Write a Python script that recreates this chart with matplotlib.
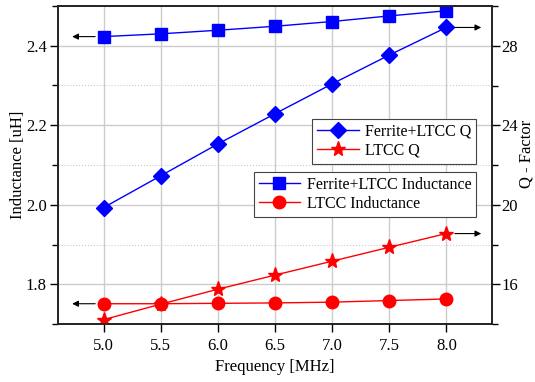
import numpy as np
import matplotlib
matplotlib.use("Agg")
import matplotlib.pyplot as plt
from matplotlib.ticker import MultipleLocator

plt.rcParams['font.family'] = ['Liberation Serif', 'DejaVu Serif']
plt.rcParams['mathtext.fontset'] = 'stix'

# data
freq = [5.0, 5.5, 6.0, 6.5, 7.0, 7.5, 8.0]
ind_ferrite = [2.423, 2.430, 2.439, 2.449, 2.461, 2.475, 2.488]
ind_ltcc = [1.751, 1.751, 1.752, 1.753, 1.755, 1.759, 1.763]
q_ferrite = [19.86, 21.46, 23.06, 24.58, 26.08, 27.53, 28.92]
q_ltcc = [14.22, 15.00, 15.75, 16.46, 17.16, 17.86, 18.55]

fig = plt.figure(figsize=(5.35, 3.82), dpi=100)
ax = fig.add_axes([58/535, 1 - 324/382, 434/535, 318/382])
ax2 = ax.twinx()

ax.set_xlim(4.6, 8.4)
ax.set_ylim(1.70, 2.50)
ax2.set_ylim(14, 30)

ax.xaxis.set_major_locator(MultipleLocator(0.5))
ax.yaxis.set_major_locator(MultipleLocator(0.2))
ax.yaxis.set_minor_locator(MultipleLocator(0.1))
ax2.yaxis.set_major_locator(MultipleLocator(4))
ax2.yaxis.set_minor_locator(MultipleLocator(2))

ax.grid(True, which='major', color='#cccccc', lw=1.0)
ax.grid(True, which='minor', axis='y', color='#cccccc', lw=0.8, ls=':')
ax.set_axisbelow(True)

l1, = ax.plot(freq, ind_ferrite, color='blue', lw=1, marker='s', ms=8,
              label='Ferrite+LTCC Inductance')
l2, = ax.plot(freq, ind_ltcc, color='red', lw=1, marker='o', ms=9,
              label='LTCC Inductance')
l3, = ax2.plot(freq, q_ferrite, color='blue', lw=1, marker='D', ms=8,
               label='Ferrite+LTCC Q')
l4, = ax2.plot(freq, q_ltcc, color='red', lw=1, marker='*', ms=11,
               label='LTCC Q')

# arrows pointing at the matching axis
arr = dict(arrowstyle='-|>', color='black', lw=0.8, mutation_scale=9)
ax.annotate('', xy=(4.70, ind_ferrite[0]), xytext=(4.95, ind_ferrite[0]), arrowprops=arr)
ax.annotate('', xy=(4.70, ind_ltcc[0]), xytext=(4.95, ind_ltcc[0]), arrowprops=arr)
ax2.annotate('', xy=(8.33, q_ferrite[-1]), xytext=(8.05, q_ferrite[-1]), arrowprops=arr)
ax2.annotate('', xy=(8.33, q_ltcc[-1]), xytext=(8.05, q_ltcc[-1]), arrowprops=arr)

for a in (ax, ax2):
    a.tick_params(which='major', direction='out', length=6, width=1, labelsize=12, pad=2)
    a.tick_params(which='minor', direction='out', length=4, width=1)
    for s in a.spines.values():
        s.set_linewidth(1.2)
        s.set_color('#222222')
ax.tick_params(axis='x', which='minor', length=0)
ax.tick_params(axis='x', pad=4)
ax2.tick_params(axis='y', pad=1)

ax.set_xlabel('Frequency [MHz]', fontsize=12, labelpad=4)
ax.set_ylabel('Inductance [uH]', fontsize=12, va='center', ha='center')
ax.yaxis.set_label_coords(-0.092, 0.5)
ax2.set_ylabel('Q - Factor', fontsize=12, rotation=90, va='center', ha='center')
ax2.yaxis.set_label_coords(1.08, 0.535)

leg_kw = dict(fontsize=11.5, frameon=True, fancybox=False, edgecolor='#444444',
              framealpha=1, handlelength=2.6, borderpad=0.3, labelspacing=0.2,
              handletextpad=0.4, borderaxespad=0)
leg1 = ax2.legend(handles=[l3, l4], loc='upper right',
                  bbox_to_anchor=(0.963, 0.645), **leg_kw)
leg1.get_frame().set_linewidth(0.8)
ax2.add_artist(leg1)
leg2 = ax2.legend(handles=[l1, l2], loc='upper right',
                  bbox_to_anchor=(0.963, 0.478), **leg_kw)
leg2.get_frame().set_linewidth(0.8)

fig.savefig('out.png', dpi=100)
